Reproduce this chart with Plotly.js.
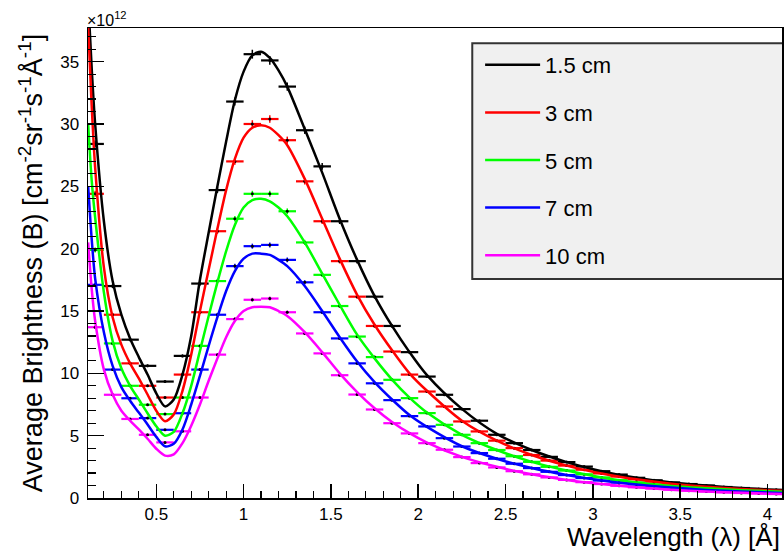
<!DOCTYPE html>
<html><head><meta charset="utf-8">
<script src="https://cdn.plot.ly/plotly-3.0.1.min.js"></script>
<style>html,body{margin:0;padding:0;background:#fff}#chart{width:784px;height:555px}</style>
</head><body><div id="chart"></div>
<script>
// Wavelength bin centres [Å]
const binCenters = [0.15,0.25,0.35,0.45,0.55,0.65,0.75,0.85,0.95,1.05,1.15,1.25,1.35,1.45,1.55,1.65,1.75,1.85,1.95,2.05,
  2.15,2.25,2.35,2.45,2.55,2.65,2.75,2.85,2.95,3.05,3.15,3.25,3.35,3.45,3.55,3.65,3.75,3.85,3.95,4.05];
const binHalfWidth = 0.05;

const seriesNames = ['1.5 cm','3 cm','5 cm','7 cm','10 cm'];
const seriesColors = ['#000000','#ff0000','#00ff00','#0000ff','#ff00ff'];

// Histogram values (×10^12)
const bins_1_5cm = [28.4,17.0,12.7,10.6,9.34,11.4,17.2,24.7,31.8,35.6,35.1,33.0,29.5,26.6,22.2,19.0,16.15,13.8,11.7,9.74,
  8.28,7.13,6.2,5.07,4.4,3.85,3.3,2.88,2.52,2.15,1.88,1.62,1.42,1.25,1.12,1.0,0.88,0.8,0.72,0.66];
const bins_3cm = [24.4,14.7,10.8,9.0,8.06,9.9,14.9,21.4,27.0,30.0,30.4,28.7,25.4,22.2,19.0,16.15,13.8,11.75,9.9,8.54,
  7.34,6.14,5.34,4.6,4.0,3.45,3.0,2.6,2.27,1.97,1.72,1.5,1.31,1.15,1.02,0.91,0.81,0.73,0.66,0.6];
const bins_5cm = [19.9,12.4,9.0,7.48,6.73,8.06,12.2,17.4,22.4,24.4,24.4,23.0,20.5,17.9,15.4,12.95,11.3,9.48,8.01,6.81,
  5.87,5.07,4.4,3.85,3.35,2.9,2.5,2.2,1.9,1.65,1.43,1.25,1.09,0.95,0.86,0.78,0.7,0.63,0.57,0.52];
const bins_7cm = [17.1,10.3,8.0,6.41,5.47,6.8,10.3,14.7,18.6,20.2,20.3,19.1,17.3,14.9,12.8,10.8,9.2,7.85,6.57,5.74,
  4.8,4.13,3.6,3.15,2.75,2.4,2.1,1.84,1.6,1.4,1.23,1.08,0.95,0.84,0.74,0.65,0.58,0.52,0.46,0.42];
const bins_10cm = [13.7,8.28,6.34,5.07,4.46,5.35,8.06,11.5,14.35,15.9,16.0,14.9,13.2,11.6,9.85,8.3,7.1,6.0,5.18,4.4,
  3.87,3.28,2.8,2.45,2.15,1.9,1.65,1.45,1.27,1.12,0.98,0.86,0.76,0.67,0.59,0.52,0.46,0.4,0.36,0.32];

// Fitted curves, read at these wavelengths
const curveX = [0.11,0.13,0.15,0.2,0.25,0.3,0.35,0.4,0.45,0.5,0.55,0.6,0.65,0.7,0.75,0.8,0.85,0.9,0.95,1.0,1.05,1.1,1.15,1.2,1.25,
  1.35,1.45,1.55,1.65,1.75,1.85,1.95,2.05,2.25,2.45,2.65,2.85,3.05,3.25,3.45,3.65,3.85,4.085];
const curve_1_5cm = [40.0,34.5,30.0,22.2,17.4,14.7,12.8,11.3,9.9,8.4,7.35,7.9,9.9,13.0,17.5,21.3,25.0,28.6,31.9,34.2,35.5,35.8,35.3,34.3,33.0,
  29.6,26.1,22.4,19.1,16.2,13.8,11.7,9.85,7.15,5.15,3.85,2.88,2.15,1.62,1.25,1.0,0.8,0.63];
const curve_3cm = [37.8,31.5,26.5,18.5,14.5,12.3,10.8,9.6,8.3,7.0,6.15,6.7,8.6,11.5,15.0,18.3,21.6,24.7,27.2,28.9,29.7,29.9,29.7,29.1,28.3,
  25.6,22.4,19.2,16.3,13.9,11.85,10.0,8.6,6.2,4.6,3.45,2.6,1.97,1.5,1.15,0.91,0.73,0.58];
const curve_5cm = [30.0,25.5,22.5,16.5,12.6,10.4,9.0,7.9,6.8,5.75,5.0,5.3,6.8,9.0,11.8,14.6,17.3,19.8,21.9,23.3,23.9,24.0,23.8,23.3,22.6,
  20.5,18.0,15.5,13.1,11.2,9.5,8.05,6.85,5.07,3.85,2.9,2.2,1.65,1.25,0.96,0.78,0.63,0.5];
const curve_7cm = [25.0,20.8,17.6,13.3,10.6,8.9,7.8,6.85,5.9,4.9,4.15,4.35,5.5,7.5,9.8,12.2,14.5,16.6,18.2,19.2,19.6,19.6,19.5,19.1,18.6,
  17.0,15.0,12.9,10.95,9.3,7.9,6.65,5.7,4.15,3.15,2.4,1.84,1.4,1.08,0.84,0.65,0.52,0.4];
const curve_10cm = [20.5,16.8,14.2,10.3,8.3,7.0,6.2,5.5,4.75,3.95,3.4,3.5,4.4,5.8,7.5,9.4,11.2,12.9,14.2,15.0,15.3,15.35,15.3,15.0,14.6,
  13.3,11.7,10.0,8.5,7.2,6.1,5.2,4.45,3.3,2.5,1.9,1.45,1.12,0.86,0.67,0.52,0.42,0.32];

const binSets = [bins_1_5cm, bins_3cm, bins_5cm, bins_7cm, bins_10cm];
const curveSets = [curve_1_5cm, curve_3cm, curve_5cm, curve_7cm, curve_10cm];

const FONT = '"Liberation Sans", Arial, Helvetica, sans-serif';
const traces = [];
binSets.forEach((vals, i) => {
  traces.push({
    type: 'scatter', mode: 'markers', x: binCenters, y: vals,
    name: seriesNames[i], legendgroup: 'g' + i, showlegend: false, hoverinfo: 'x+y',
    marker: {size: 3, color: '#000000'},
    error_x: {type: 'constant', value: binHalfWidth, width: 0, thickness: 2.2, color: seriesColors[i]},
    error_y: {type: 'percent', value: 1.0, width: 0, thickness: 1.5, color: seriesColors[i]}
  });
});
curveSets.forEach((vals, i) => {
  traces.push({
    type: 'scatter', mode: 'lines', x: curveX, y: vals,
    name: seriesNames[i], legendgroup: 'g' + i, showlegend: true,
    line: {color: seriesColors[i], width: 2.5, shape: 'spline', smoothing: 0.8}
  });
});

const layout = {
  width: 784, height: 555,
  margin: {l: 88, r: 2, t: 28, b: 57},
  paper_bgcolor: '#ffffff', plot_bgcolor: '#ffffff',
  font: {family: FONT, size: 17, color: '#000000'},
  showlegend: true,
  xaxis: {
    range: [0.109, 4.083], showgrid: false, zeroline: false,
    showline: true, linecolor: '#000000', linewidth: 1.5, mirror: true,
    tickmode: 'linear', tick0: 0.5, dtick: 0.5,
    ticks: 'inside', ticklen: 14, tickwidth: 1.5, tickcolor: '#000000',
    minor: {dtick: 0.1, ticks: 'inside', ticklen: 7, tickwidth: 1.2, tickcolor: '#000000'},
    tickfont: {family: FONT, size: 17, color: '#000000'},
    ticklabelstandoff: 0
  },
  yaxis: {
    range: [0, 37.7], showgrid: false, zeroline: false,
    showline: true, linecolor: '#000000', linewidth: 1.5, mirror: true,
    tickmode: 'linear', tick0: 0, dtick: 5,
    ticks: 'inside', ticklen: 16, tickwidth: 1.5, tickcolor: '#000000',
    minor: {dtick: 1, ticks: 'inside', ticklen: 8, tickwidth: 1.2, tickcolor: '#000000'},
    tickfont: {family: FONT, size: 17, color: '#000000'},
    ticklabelstandoff: 4,
    title: {text: 'Average Brightness (B) [cm<sup>-2</sup>sr<sup>-1</sup>s<sup>-1</sup>Å<sup>-1</sup>]',
      font: {family: FONT, size: 27, color: '#000000'}, standoff: 9}
  },
  legend: {
    x: 0.565, y: 0.966, xanchor: 'left', yanchor: 'top',
    bgcolor: 'rgba(0,0,0,0)', borderwidth: 0,
    font: {family: FONT, size: 22, color: '#000000'},
    itemwidth: 55, tracegroupgap: 16, traceorder: 'grouped'
  },
  shapes: [{
    type: 'rect', xref: 'paper', yref: 'paper', x0: 0.5537, x1: 1.02, y0: 0.466, y1: 0.9675,
    fillcolor: '#f0f0f0', line: {color: '#333333', width: 2}, layer: 'below'
  }],
  annotations: [
    {text: '×10<sup>12</sup>', xref: 'paper', yref: 'paper', x: 0, y: 1, xanchor: 'left', yanchor: 'bottom',
      showarrow: false, font: {family: FONT, size: 16, color: '#000000'}, xshift: -3, yshift: -3},
    {text: 'Wavelength (λ) [Å]', xref: 'paper', yref: 'paper', x: 1, y: 0, xanchor: 'right', yanchor: 'bottom',
      showarrow: false, font: {family: FONT, size: 26, color: '#000000'}, yshift: -56}
  ]
};

Plotly.newPlot('chart', traces, layout, {displayModeBar: false, staticPlot: true});
</script>
</body></html>
